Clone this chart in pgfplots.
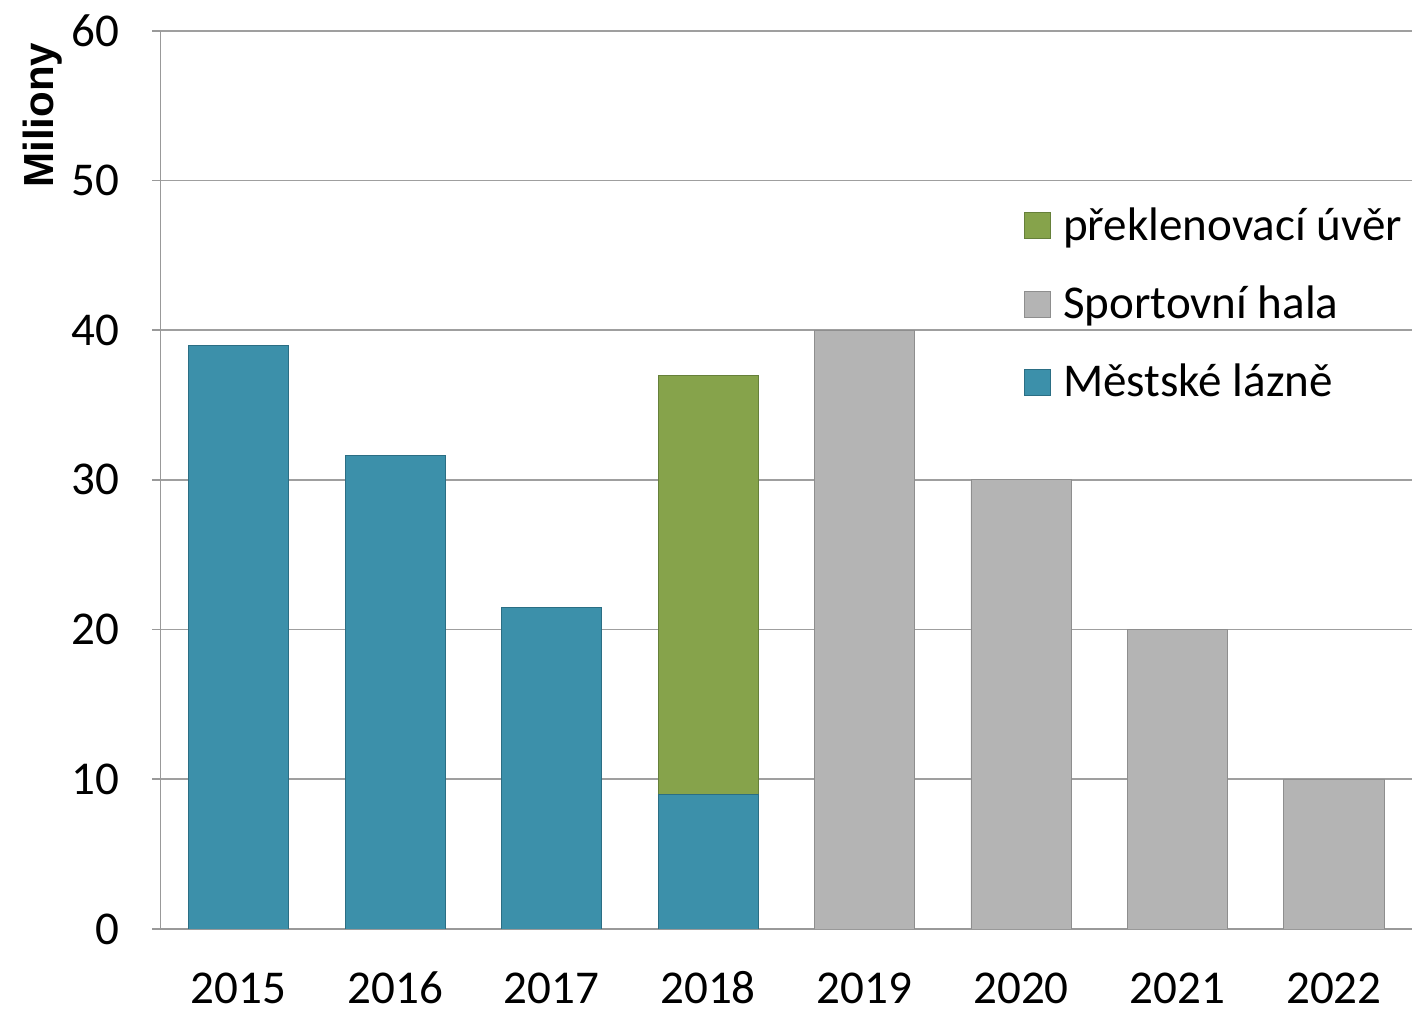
\documentclass[border=0pt]{standalone}
\usepackage{pgfplots}
\pgfplotsset{compat=1.18}
\usepackage{fontspec}
\setmainfont{Carlito}
\newfontfamily\arialfont{Liberation Sans}

\definecolor{lazne}{HTML}{3C90AA}
\definecolor{lazneedge}{HTML}{2B6E84}
\definecolor{hala}{HTML}{B4B4B4}
\definecolor{halaedge}{HTML}{8E8E8E}
\definecolor{uver}{HTML}{86A34B}
\definecolor{uveredge}{HTML}{66803A}

\begin{document}
\begin{tikzpicture}
\begin{axis}[
    name=main,
    scale only axis,
    width=625pt, height=448.5pt,
    ybar, bar shift=0pt, bar width=50pt,
    xmin=-0.5, xmax=7.5,
    ymin=0, ymax=60,
    ytick={0,10,...,60},
    xtick={0,...,7},
    xticklabels={2015,2016,2017,2018,2019,2020,2021,2022},
    axis lines*=left,
    axis line style={draw=gray!80, line width=0.8pt},
    x axis line style={-}, y axis line style={-},
    ymajorgrids, grid style={gray!75, line width=0.8pt},
    xtick style={draw=none},
    ytick style={draw=gray!80, line width=0.8pt},
    tick align=outside, major tick length=4pt,
    tick label style={font=\fontsize{23.5}{28}\selectfont},
    /pgf/number format/assume math mode=true,
    yticklabel style={xshift=-13pt},
    xticklabel style={anchor=base, yshift=-33pt},
    ylabel={\arialfont\bfseries Miliony},
    ylabel style={font=\fontsize{21}{25}\selectfont, at={(ticklabel cs:0.906)}, yshift=-2pt},
    legend style={at={(0.685,0.812)}, anchor=north west, draw=none, fill=none,
        font=\fontsize{23.5}{28}\selectfont, row sep=17.2pt,
        /tikz/every odd column/.append style={column sep=4pt}},
    legend cell align=left,
    legend image code/.code={\draw[#1] (0pt,-6.5pt) rectangle (13pt,6.5pt);},
]
\addplot[fill=uver, draw=uveredge] coordinates {(3,37)};
\addplot[fill=hala, draw=halaedge] coordinates {(4,40)(5,30)(6,20)(7,10)};
\addplot[fill=lazne, draw=lazneedge] coordinates {(0,39)(1,31.6)(2,21.5)(3,9)};
\legend{překlenovací úvěr, Sportovní hala, Městské lázně}
\end{axis}
\path (current bounding box.south west) ++(-8pt,-3pt);
\path (current bounding box.north east) ++(4pt,4pt);
\end{tikzpicture}
\end{document}
